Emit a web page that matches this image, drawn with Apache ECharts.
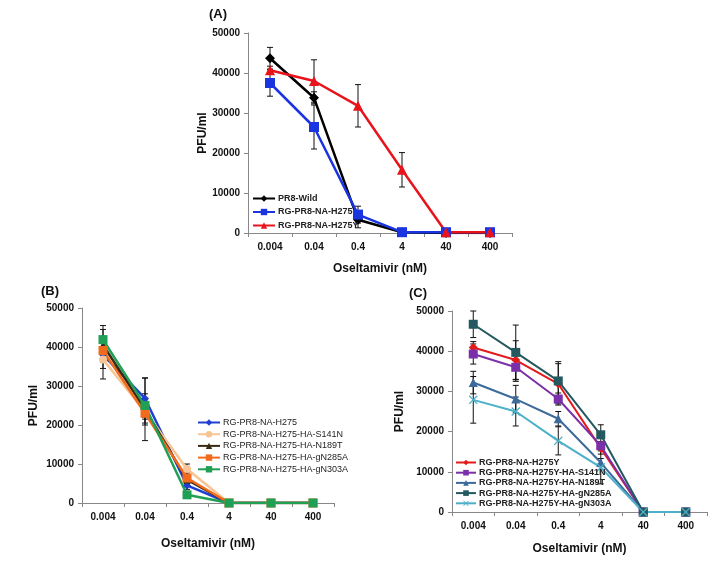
<!DOCTYPE html>
<html><head><meta charset="utf-8">
<script src="https://cdn.jsdelivr.net/npm/echarts@6/dist/echarts.min.js"></script>
<style>html,body{margin:0;padding:0;background:#fff}#c{width:717px;height:566px}</style>
</head><body><div id="c"></div>
<script>
const categories = ['0.004','0.04','0.4','4','40','400'];
const yTicks = [0, 10000, 20000, 30000, 40000, 50000];

// Panel A
const aNames = ['PR8-Wild','RG-PR8-NA-H275','RG-PR8-NA-H275Y'];
const aWild = [43700, 33800, 3300, 200, 0, 0];
const aWildErr = [2700, 1500, 2000, 0, 0, 0];
const aH275 = [37500, 26500, 4600, 200, 200, 200];
const aH275Err = [3300, 5500, 2100, 0, 0, 0];
const aH275Y = [40700, 38000, 31800, 15800, 200, 200];
const aH275YErr = [1000, 5300, 5300, 4300, 0, 0];

// Panel B
const bNames = ['RG-PR8-NA-H275','RG-PR8-NA-H275-HA-S141N','RG-PR8-NA-H275-HA-N189T','RG-PR8-NA-H275-HA-gN285A','RG-PR8-NA-H275-HA-gN303A'];
const bH275 = [38000, 26800, 4500, 0, 0, 0];
const bH275Err = [3500, 5300, 1000, 0, 0, 0];
const bS141N = [36800, 23500, 8700, 0, 0, 0];
const bS141NErr = [5000, 3000, 1300, 0, 0, 0];
const bN189T = [40500, 24000, 6000, 0, 0, 0];
const bN189TErr = [4000, 8000, 1000, 0, 0, 0];
const bN285A = [39100, 23000, 6400, 0, 0, 0];
const bN285AErr = [3000, 3000, 1500, 0, 0, 0];
const bN303A = [41900, 25000, 2100, 0, 0, 0];
const bN303AErr = [3600, 3000, 800, 0, 0, 0];

// Panel C
const cNames = ['RG-PR8-NA-H275Y','RG-PR8-NA-H275Y-HA-S141N','RG-PR8-NA-H275Y-HA-N189T','RG-PR8-NA-H275Y-HA-gN285A','RG-PR8-NA-H275Y-HA-gN303A'];
const cH275Y = [40900, 37800, 31900, 15900, 0, 0];
const cH275YErr = [1500, 4800, 5000, 1500, 0, 0];
const cS141N = [39300, 36000, 28100, 16500, 0, 0];
const cS141NErr = [2500, 3500, 1500, 1000, 0, 0];
const cN189T = [32200, 28100, 23200, 12300, 0, 0];
const cN189TErr = [2800, 3400, 1800, 1000, 0, 0];
const cN285A = [46700, 39700, 32600, 19200, 0, 0];
const cN285AErr = [3300, 6800, 4800, 2500, 0, 0];
const cN303A = [27900, 25000, 17700, 11100, 0, 0];
const cN303AErr = [5800, 3600, 3500, 4100, 0, 0];

const FONT = 'Liberation Sans';
const X_SYM = 'path://M0,1 L1,0 L5,4 L9,0 L10,1 L6,5 L10,9 L9,10 L5,6 L1,10 L0,9 L4,5 Z';

const grids = [
  {left: 248, top: 33, width: 264, height: 200},
  {left: 82, top: 308, width: 252, height: 195},
  {left: 452, top: 311, width: 255, height: 201}
];
const xNameGap = [30, 35, 31];
const yNameGap = [37, 42, 46];

const xAxes = grids.map((g, i) => ({
  type: 'category', gridIndex: i, data: categories, boundaryGap: true,
  name: 'Oseltamivir (nM)', nameLocation: 'middle', nameGap: xNameGap[i],
  nameTextStyle: {fontFamily: FONT, fontWeight: 'bold', fontSize: 12, color: '#111'},
  axisLine: {lineStyle: {color: '#888', width: 1}},
  axisTick: {show: true, length: 4, inside: false, lineStyle: {color: '#888'}},
  axisLabel: {fontFamily: FONT, fontWeight: 'bold', fontSize: 10, color: '#111', margin: 9}
}));
const yAxes = grids.map((g, i) => ({
  type: 'value', gridIndex: i, min: yTicks[0], max: yTicks[yTicks.length - 1], interval: 10000,
  name: 'PFU/ml', nameLocation: 'middle', nameGap: yNameGap[i], nameRotate: 90,
  nameTextStyle: {fontFamily: FONT, fontWeight: 'bold', fontSize: 12, color: '#111'},
  axisLine: {show: true, lineStyle: {color: '#888', width: 1}},
  axisTick: {show: true, length: 4, inside: false, lineStyle: {color: '#888'}},
  splitLine: {show: false},
  axisLabel: {fontFamily: FONT, fontWeight: 'bold', fontSize: 10, color: '#111', margin: 8,
    formatter: v => String(v)}
}));

const series = [];
function addLine(panel, name, data, err, color, symbol, size, width) {
  const idx = 'ABC'.indexOf(panel);
  series.push({
    type: 'line', name: panel + '|' + name, xAxisIndex: idx, yAxisIndex: idx,
    data: data, symbol: symbol, symbolSize: size, z: 3,
    lineStyle: {color: color, width: width}, itemStyle: {color: color}
  });
  const eb = [];
  err.forEach((e, k) => { if (e > 0) eb.push([k, data[k] - e, data[k] + e]); });
  series.push({
    type: 'custom', xAxisIndex: idx, yAxisIndex: idx, z: 2,
    data: eb, encode: {x: 0, y: [1, 2]},
    renderItem: function (params, api) {
      const lo = api.coord([api.value(0), api.value(1)]);
      const hi = api.coord([api.value(0), api.value(2)]);
      const hw = 3;
      const st = {stroke: '#111', lineWidth: 1};
      return {type: 'group', children: [
        {type: 'line', shape: {x1: lo[0], y1: lo[1], x2: hi[0], y2: hi[1]}, style: st},
        {type: 'line', shape: {x1: lo[0] - hw, y1: lo[1], x2: lo[0] + hw, y2: lo[1]}, style: st},
        {type: 'line', shape: {x1: hi[0] - hw, y1: hi[1], x2: hi[0] + hw, y2: hi[1]}, style: st}
      ]};
    }
  });
}

addLine('A', aNames[0], aWild, aWildErr, '#000000', 'diamond', 10, 2.5);
addLine('A', aNames[1], aH275, aH275Err, '#1a35e0', 'rect', 10, 2.5);
addLine('A', aNames[2], aH275Y, aH275YErr, '#e8141c', 'triangle', 10, 2.5);

addLine('B', bNames[0], bH275, bH275Err, '#1f3fd0', 'diamond', 8, 2.5);
addLine('B', bNames[1], bS141N, bS141NErr, '#f7c595', 'circle', 8, 2.5);
addLine('B', bNames[2], bN189T, bN189TErr, '#3a2a12', 'triangle', 8, 2.5);
addLine('B', bNames[3], bN285A, bN285AErr, '#f26b1d', 'rect', 9, 2.5);
addLine('B', bNames[4], bN303A, bN303AErr, '#1fa055', 'rect', 9, 2.5);

addLine('C', cNames[0], cH275Y, cH275YErr, '#e31a1c', 'diamond', 9, 2);
addLine('C', cNames[1], cS141N, cS141NErr, '#7b2fa8', 'rect', 9, 2);
addLine('C', cNames[2], cN189T, cN189TErr, '#3c6a9a', 'triangle', 9, 2);
addLine('C', cNames[3], cN285A, cN285AErr, '#23595f', 'rect', 9, 2);
addLine('C', cNames[4], cN303A, cN303AErr, '#4bb0c8', X_SYM, 9, 2);

const fmt = n => n.split('|')[1];
const legends = [
  {data: aNames.map(n => 'A|' + n), left: 252, top: 194, itemGap: 4.5, itemHeight: 8, lh: 9, itemWidth: 22, fontWeight: 'bold'},
  {data: bNames.map(n => 'B|' + n), left: 197, top: 418, itemGap: 2.7, itemHeight: 8, lh: 9, itemWidth: 22, fontWeight: 'normal'},
  {data: cNames.map(n => 'C|' + n), left: 455, top: 458, itemGap: 1.2, itemHeight: 7, lh: 8, itemWidth: 20, fontWeight: 'bold'}
].map(l => ({
  orient: 'vertical', left: l.left, top: l.top, data: l.data, itemGap: l.itemGap,
  itemHeight: l.itemHeight, itemWidth: l.itemWidth, formatter: fmt, padding: 0,
  textStyle: {fontFamily: FONT, fontSize: 9, fontWeight: l.fontWeight, color: '#222', lineHeight: l.lh, padding: [0, 0, 0, -2]}
}));

const titles = [
  {text: '(A)', left: 209, top: 8},
  {text: '(B)', left: 41, top: 285},
  {text: '(C)', left: 409, top: 287}
].map(t => ({text: t.text, left: t.left, top: t.top, padding: 0,
  textStyle: {fontFamily: FONT, fontWeight: 'bold', fontSize: 13, color: '#111'}}));

const chart = echarts.init(document.getElementById('c'), null, {renderer: 'canvas'});
chart.setOption({
  backgroundColor: '#fff', animation: false,
  title: titles, legend: legends, grid: grids, xAxis: xAxes, yAxis: yAxes, series: series
});
</script></body></html>
